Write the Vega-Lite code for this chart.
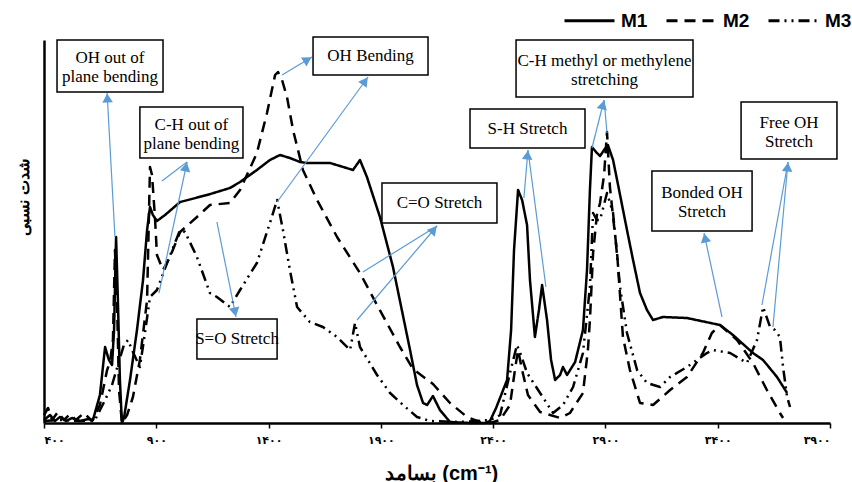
{
 "$schema": "https://vega.github.io/schema/vega-lite/v6.json",
 "width": 786, "height": 383,
 "autosize": {"type": "none"},
 "padding": {"left": 44, "top": 40, "right": 22, "bottom": 59},
 "background": "white",
 "config": {
  "view": {"stroke": null},
  "legend": {"symbolType": "stroke", "symbolSize": 2500, "symbolStrokeWidth": 3, "symbolStrokeColor": "black", "labelFont": "Liberation Sans", "labelFontSize": 19, "labelFontWeight": "bold", "labelColor": "black", "labelOffset": 5, "columnPadding": 12, "padding": 0}
 },
 "datasets": {
  "spectra": [
   {"s":"M1","x":400,"y":3},{"s":"M1","x":427,"y":8},{"s":"M1","x":449,"y":2},{"s":"M1","x":471,"y":6},{"s":"M1","x":498,"y":2},{"s":"M1","x":525,"y":5},{"s":"M1","x":560,"y":2},{"s":"M1","x":596,"y":4},{"s":"M1","x":618,"y":3},{"s":"M1","x":649,"y":28},{"s":"M1","x":672,"y":76},{"s":"M1","x":689,"y":63},{"s":"M1","x":703,"y":58},{"s":"M1","x":712,"y":93},{"s":"M1","x":721,"y":186},{"s":"M1","x":729,"y":123},{"s":"M1","x":738,"y":43},{"s":"M1","x":747,"y":0},{"s":"M1","x":756,"y":5},{"s":"M1","x":783,"y":43},{"s":"M1","x":814,"y":93},{"s":"M1","x":841,"y":143},{"s":"M1","x":859,"y":193},{"s":"M1","x":872,"y":216},{"s":"M1","x":885,"y":208},{"s":"M1","x":903,"y":202},{"s":"M1","x":939,"y":208},{"s":"M1","x":1006,"y":221},{"s":"M1","x":1126,"y":228},{"s":"M1","x":1228,"y":235},{"s":"M1","x":1273,"y":241},{"s":"M1","x":1348,"y":253},{"s":"M1","x":1406,"y":263},{"s":"M1","x":1451,"y":268},{"s":"M1","x":1495,"y":265},{"s":"M1","x":1540,"y":261},{"s":"M1","x":1571,"y":260},{"s":"M1","x":1674,"y":260},{"s":"M1","x":1776,"y":253},{"s":"M1","x":1807,"y":263},{"s":"M1","x":1838,"y":246},{"s":"M1","x":1896,"y":206},{"s":"M1","x":1954,"y":156},{"s":"M1","x":2030,"y":73},{"s":"M1","x":2061,"y":38},{"s":"M1","x":2088,"y":20},{"s":"M1","x":2106,"y":18},{"s":"M1","x":2132,"y":27},{"s":"M1","x":2163,"y":13},{"s":"M1","x":2208,"y":1},{"s":"M1","x":2297,"y":0},{"s":"M1","x":2364,"y":0},{"s":"M1","x":2386,"y":2},{"s":"M1","x":2413,"y":15},{"s":"M1","x":2462,"y":43},{"s":"M1","x":2480,"y":93},{"s":"M1","x":2493,"y":173},{"s":"M1","x":2511,"y":233},{"s":"M1","x":2529,"y":223},{"s":"M1","x":2551,"y":198},{"s":"M1","x":2564,"y":143},{"s":"M1","x":2586,"y":86},{"s":"M1","x":2604,"y":113},{"s":"M1","x":2618,"y":138},{"s":"M1","x":2640,"y":103},{"s":"M1","x":2658,"y":63},{"s":"M1","x":2676,"y":43},{"s":"M1","x":2698,"y":48},{"s":"M1","x":2711,"y":56},{"s":"M1","x":2729,"y":48},{"s":"M1","x":2765,"y":61},{"s":"M1","x":2800,"y":93},{"s":"M1","x":2818,"y":153},{"s":"M1","x":2831,"y":233},{"s":"M1","x":2840,"y":276},{"s":"M1","x":2858,"y":271},{"s":"M1","x":2876,"y":267},{"s":"M1","x":2894,"y":273},{"s":"M1","x":2911,"y":278},{"s":"M1","x":2934,"y":263},{"s":"M1","x":2952,"y":243},{"s":"M1","x":2974,"y":218},{"s":"M1","x":2996,"y":193},{"s":"M1","x":3023,"y":163},{"s":"M1","x":3054,"y":130},{"s":"M1","x":3085,"y":113},{"s":"M1","x":3112,"y":103},{"s":"M1","x":3156,"y":106},{"s":"M1","x":3263,"y":105},{"s":"M1","x":3410,"y":98},{"s":"M1","x":3468,"y":88},{"s":"M1","x":3557,"y":70},{"s":"M1","x":3602,"y":63},{"s":"M1","x":3664,"y":46},{"s":"M1","x":3709,"y":30},
   {"s":"M2","x":400,"y":8},{"s":"M2","x":418,"y":15},{"s":"M2","x":436,"y":3},{"s":"M2","x":462,"y":11},{"s":"M2","x":489,"y":3},{"s":"M2","x":516,"y":9},{"s":"M2","x":542,"y":3},{"s":"M2","x":578,"y":10},{"s":"M2","x":614,"y":2},{"s":"M2","x":649,"y":18},{"s":"M2","x":681,"y":53},{"s":"M2","x":694,"y":61},{"s":"M2","x":707,"y":83},{"s":"M2","x":716,"y":173},{"s":"M2","x":725,"y":123},{"s":"M2","x":734,"y":33},{"s":"M2","x":747,"y":0},{"s":"M2","x":770,"y":8},{"s":"M2","x":796,"y":26},{"s":"M2","x":827,"y":63},{"s":"M2","x":859,"y":123},{"s":"M2","x":872,"y":256},{"s":"M2","x":881,"y":248},{"s":"M2","x":894,"y":206},{"s":"M2","x":903,"y":168},{"s":"M2","x":930,"y":153},{"s":"M2","x":961,"y":166},{"s":"M2","x":1006,"y":191},{"s":"M2","x":1081,"y":206},{"s":"M2","x":1139,"y":218},{"s":"M2","x":1228,"y":220},{"s":"M2","x":1273,"y":233},{"s":"M2","x":1348,"y":270},{"s":"M2","x":1393,"y":310},{"s":"M2","x":1429,"y":348},{"s":"M2","x":1442,"y":351},{"s":"M2","x":1460,"y":343},{"s":"M2","x":1482,"y":326},{"s":"M2","x":1509,"y":293},{"s":"M2","x":1553,"y":253},{"s":"M2","x":1616,"y":223},{"s":"M2","x":1705,"y":186},{"s":"M2","x":1807,"y":150},{"s":"M2","x":1883,"y":118},{"s":"M2","x":1985,"y":76},{"s":"M2","x":2043,"y":54},{"s":"M2","x":2132,"y":39},{"s":"M2","x":2208,"y":20},{"s":"M2","x":2284,"y":6},{"s":"M2","x":2342,"y":1},{"s":"M2","x":2386,"y":0},{"s":"M2","x":2431,"y":3},{"s":"M2","x":2475,"y":18},{"s":"M2","x":2497,"y":53},{"s":"M2","x":2511,"y":73},{"s":"M2","x":2529,"y":53},{"s":"M2","x":2555,"y":28},{"s":"M2","x":2609,"y":11},{"s":"M2","x":2698,"y":5},{"s":"M2","x":2742,"y":10},{"s":"M2","x":2800,"y":30},{"s":"M2","x":2822,"y":73},{"s":"M2","x":2831,"y":103},{"s":"M2","x":2845,"y":170},{"s":"M2","x":2862,"y":208},{"s":"M2","x":2876,"y":220},{"s":"M2","x":2894,"y":248},{"s":"M2","x":2907,"y":291},{"s":"M2","x":2920,"y":236},{"s":"M2","x":2938,"y":198},{"s":"M2","x":2952,"y":170},{"s":"M2","x":2978,"y":86},{"s":"M2","x":3009,"y":53},{"s":"M2","x":3054,"y":20},{"s":"M2","x":3112,"y":18},{"s":"M2","x":3188,"y":33},{"s":"M2","x":3263,"y":46},{"s":"M2","x":3334,"y":70},{"s":"M2","x":3374,"y":90},{"s":"M2","x":3410,"y":98},{"s":"M2","x":3486,"y":83},{"s":"M2","x":3557,"y":60},{"s":"M2","x":3619,"y":33},{"s":"M2","x":3677,"y":10},{"s":"M2","x":3691,"y":5},
   {"s":"M3","x":400,"y":2},{"s":"M3","x":471,"y":3},{"s":"M3","x":560,"y":2},{"s":"M3","x":627,"y":3},{"s":"M3","x":672,"y":23},{"s":"M3","x":703,"y":38},{"s":"M3","x":729,"y":58},{"s":"M3","x":756,"y":78},{"s":"M3","x":774,"y":83},{"s":"M3","x":796,"y":71},{"s":"M3","x":827,"y":56},{"s":"M3","x":845,"y":83},{"s":"M3","x":872,"y":126},{"s":"M3","x":903,"y":133},{"s":"M3","x":948,"y":160},{"s":"M3","x":983,"y":180},{"s":"M3","x":1006,"y":193},{"s":"M3","x":1028,"y":191},{"s":"M3","x":1081,"y":166},{"s":"M3","x":1139,"y":130},{"s":"M3","x":1170,"y":126},{"s":"M3","x":1228,"y":116},{"s":"M3","x":1273,"y":133},{"s":"M3","x":1348,"y":160},{"s":"M3","x":1406,"y":200},{"s":"M3","x":1438,"y":223},{"s":"M3","x":1464,"y":193},{"s":"M3","x":1495,"y":153},{"s":"M3","x":1527,"y":116},{"s":"M3","x":1584,"y":101},{"s":"M3","x":1642,"y":96},{"s":"M3","x":1705,"y":86},{"s":"M3","x":1763,"y":73},{"s":"M3","x":1785,"y":100},{"s":"M3","x":1807,"y":76},{"s":"M3","x":1883,"y":48},{"s":"M3","x":1941,"y":30},{"s":"M3","x":1999,"y":18},{"s":"M3","x":2061,"y":6},{"s":"M3","x":2119,"y":2},{"s":"M3","x":2252,"y":1},{"s":"M3","x":2386,"y":3},{"s":"M3","x":2431,"y":8},{"s":"M3","x":2475,"y":50},{"s":"M3","x":2506,"y":78},{"s":"M3","x":2524,"y":68},{"s":"M3","x":2551,"y":50},{"s":"M3","x":2609,"y":30},{"s":"M3","x":2667,"y":10},{"s":"M3","x":2711,"y":18},{"s":"M3","x":2756,"y":36},{"s":"M3","x":2800,"y":70},{"s":"M3","x":2831,"y":136},{"s":"M3","x":2845,"y":210},{"s":"M3","x":2862,"y":203},{"s":"M3","x":2876,"y":203},{"s":"M3","x":2907,"y":230},{"s":"M3","x":2934,"y":210},{"s":"M3","x":2965,"y":136},{"s":"M3","x":2996,"y":90},{"s":"M3","x":3041,"y":53},{"s":"M3","x":3085,"y":40},{"s":"M3","x":3143,"y":36},{"s":"M3","x":3188,"y":46},{"s":"M3","x":3263,"y":56},{"s":"M3","x":3352,"y":70},{"s":"M3","x":3379,"y":73},{"s":"M3","x":3455,"y":70},{"s":"M3","x":3530,"y":60},{"s":"M3","x":3575,"y":83},{"s":"M3","x":3602,"y":116},{"s":"M3","x":3633,"y":96},{"s":"M3","x":3655,"y":93},{"s":"M3","x":3677,"y":86},{"s":"M3","x":3691,"y":56},{"s":"M3","x":3709,"y":26},{"s":"M3","x":3722,"y":16}
  ],
  "arrows": [
   {"x":716,"y":186,"x2":681,"y2":330,"h":1},
   {"x":925,"y":242,"x2":1037,"y2":261,"h":0},
   {"x":912,"y":130,"x2":1037,"y2":261,"h":1},
   {"x":1460,"y":348,"x2":1593,"y2":366,"h":1},
   {"x":1438,"y":221,"x2":1843,"y2":346,"h":1},
   {"x":1170,"y":201,"x2":1255,"y2":106,"h":1},
   {"x":1820,"y":151,"x2":2150,"y2":197,"h":0},
   {"x":1794,"y":103,"x2":2150,"y2":197,"h":1},
   {"x":2537,"y":225,"x2":2555,"y2":273,"h":1},
   {"x":2635,"y":136,"x2":2555,"y2":273,"h":0},
   {"x":2840,"y":275,"x2":2894,"y2":323,"h":1},
   {"x":2907,"y":290,"x2":2894,"y2":323,"h":0},
   {"x":3419,"y":106,"x2":3339,"y2":190,"h":1},
   {"x":3597,"y":118,"x2":3713,"y2":261,"h":0},
   {"x":3646,"y":96,"x2":3713,"y2":261,"h":1}
  ],
  "boxes": [
   {"label":"OH out of\nplane bending","x":458,"x2":930,"y":383,"y2":331},
   {"label":"C-H out of\nplane bending","x":827,"x2":1286,"y":316,"y2":265},
   {"label":"OH Bending","x":1598,"x2":2110,"y":386,"y2":348},
   {"label":"S=O Stretch","x":1081,"x2":1438,"y":104,"y2":64},
   {"label":"C=O Stretch","x":1905,"x2":2417,"y":240,"y2":200},
   {"label":"S-H Stretch","x":2297,"x2":2809,"y":314,"y2":275},
   {"label":"C-H methyl or methylene\nstretching","x":2502,"x2":3290,"y":383,"y2":326},
   {"label":"Bonded OH\nStretch","x":3107,"x2":3553,"y":252,"y2":192},
   {"label":"Free OH\nStretch","x":3504,"x2":3931,"y":321,"y2":264}
  ]
 },
 "encoding": {
  "x": {"field": "x", "type": "quantitative",
   "scale": {"domain": [400, 3900], "nice": false, "zero": false},
   "axis": {"values": [400, 900, 1400, 1900, 2400, 2900, 3400, 3900], "format": "d",
    "labelExpr": "replace(replace(replace(replace(replace(replace(datum.label,regexp('0','g'),'۰'),regexp('1','g'),'۱'),regexp('2','g'),'۲'),regexp('3','g'),'۳'),regexp('4','g'),'۴'),regexp('9','g'),'۹')",
    "grid": false, "domainColor": "black", "domainWidth": 2.5, "tickColor": "black", "tickSize": 5, "tickWidth": 1.5,
    "labelFont": "DejaVu Sans", "labelFontSize": 11, "labelFontWeight": "bold", "labelColor": "black", "labelPadding": 6,
    "title": "بسامد (cm⁻¹)", "titleFont": "Liberation Sans", "titleFontSize": 20, "titleFontWeight": "bold", "titleColor": "black", "titleX": 397, "titleY": 50, "titleBaseline": "middle"}},
  "y": {"field": "y", "type": "quantitative",
   "scale": {"domain": [0, 383], "nice": false, "zero": false},
   "axis": {"grid": false, "ticks": false, "labels": false, "domainColor": "black", "domainWidth": 2.5,
    "title": "شدت نسبی", "titleFont": "Liberation Sans", "titleFontSize": 16, "titleFontWeight": "bold", "titleColor": "black",
    "titleX": -21, "titleY": 157, "titleBaseline": "middle", "titleAlign": "center", "titleAngle": -90}}
 },
 "layer": [
  {"data": {"name": "spectra"},
   "mark": {"type": "line", "color": "black", "strokeWidth": 2.5, "strokeJoin": "round"},
   "encoding": {"strokeDash": {"field": "s", "type": "nominal",
     "scale": {"domain": ["M1", "M2", "M3"], "range": [[1, 0], [11, 7], [11, 5, 2, 5, 2, 5]]},
     "legend": {"orient": "none", "direction": "horizontal", "legendX": 519, "legendY": -46, "title": null}}}},
  {"data": {"name": "boxes"},
   "mark": {"type": "rect", "fill": "white", "stroke": "black", "strokeWidth": 1.5},
   "encoding": {"x2": {"field": "x2"}, "y2": {"field": "y2"}}},
  {"data": {"name": "arrows"},
   "mark": {"type": "rule", "color": "#5b9bd5", "strokeWidth": 1.2},
   "encoding": {"x2": {"field": "x2"}, "y2": {"field": "y2"}}},
  {"data": {"name": "arrows"},
   "transform": [
    {"filter": "datum.h == 1"},
    {"calculate": "(datum.x2 - datum.x) / 4.453", "as": "dxp"},
    {"calculate": "datum.y2 - datum.y", "as": "dyp"},
    {"calculate": "sqrt(datum.dxp * datum.dxp + datum.dyp * datum.dyp)", "as": "len"},
    {"calculate": "atan2(datum.dxp, datum.dyp) * 180 / PI", "as": "ang"},
    {"calculate": "datum.x2 - datum.dxp / datum.len * 5 * 4.453", "as": "x"},
    {"calculate": "datum.y2 - datum.dyp / datum.len * 5", "as": "y"}
   ],
   "mark": {"type": "point", "shape": "triangle-up", "filled": true, "color": "#5b9bd5", "size": 110, "opacity": 1},
   "encoding": {"angle": {"field": "ang", "type": "quantitative", "scale": null}}},
  {"data": {"name": "boxes"},
   "transform": [
    {"calculate": "(datum.x + datum.x2) / 2", "as": "x"},
    {"calculate": "(datum.y + datum.y2) / 2 + (indexof(datum.label, '\\n') >= 0 ? 8 : 0)", "as": "y"}
   ],
   "mark": {"type": "text", "font": "Liberation Serif", "fontSize": 17, "lineBreak": "\n", "lineHeight": 19, "align": "center", "baseline": "middle", "color": "black"},
   "encoding": {"text": {"field": "label"}}}
 ]
}
